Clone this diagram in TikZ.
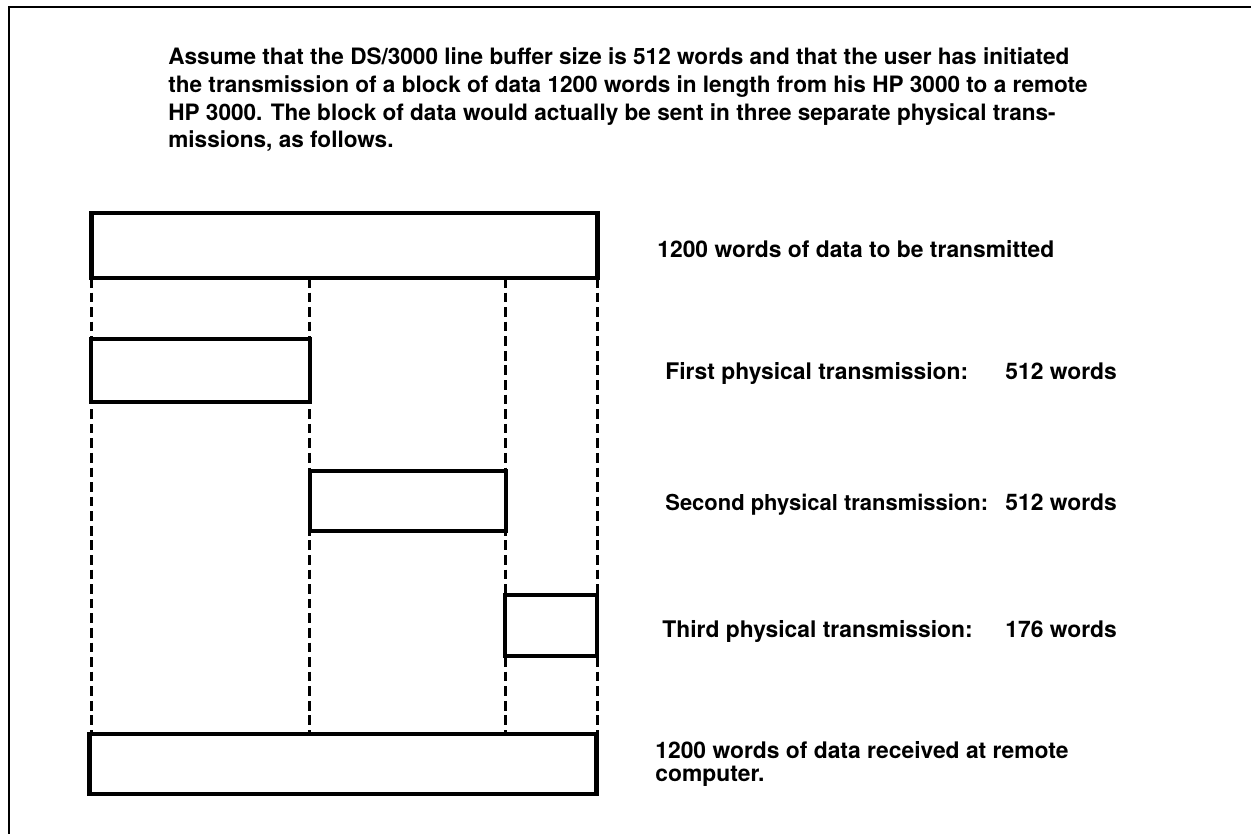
\documentclass[tikz,border=0pt]{standalone}
\usepackage{fontspec}
\usepackage{tikz}
\usetikzlibrary{calc}
\newfontfamily\hpfont{TeX Gyre Heros}
\tikzset{
  frame/.style={draw, line width=1.5pt},
  blk/.style={rectangle, draw, line width=2.8pt, inner sep=0pt, outer sep=0pt},
  guide/.style={dash pattern=on 5.5pt off 2.8pt, line width=1.7pt},
  para/.style={anchor=north west, align=left, inner sep=0pt,
               font=\hpfont\bfseries\fontsize{12.85}{15.9}\selectfont},
  lbl/.style={anchor=base west, inner sep=0pt,
              font=\hpfont\bfseries\fontsize{13}{13.1}\selectfont},
}

\begin{document}
\begin{tikzpicture}[x=0.02cm, y=-0.02cm]

\useasboundingbox (0,0) rectangle (1251,834);
\clip (0,0) rectangle (1251,834);

% Ramka
\draw[frame] (9,7) rectangle (1280,860);

% Opis
\node[para] (intro) at (168,47) {Assume that the DS/3000 line buffer size is 512 words and that the user has initiated\\
the transmission of a block of data 1200 words in length from his HP 3000 to a remote\\
HP 3000. The block of data would actually be sent in three separate physical trans-\\
missions, as follows.};

% ========== Bloki danych ==========
\node[blk, minimum width=10.14cm, minimum height=1.30cm] (whole)    at (344.5,245.5) {};
\node[blk, minimum width=4.38cm,  minimum height=1.26cm] (first)    at (200.5,370.5) {};
\node[blk, minimum width=3.92cm,  minimum height=1.20cm] (second)   at (408,501)     {};
\node[blk, minimum width=1.84cm,  minimum height=1.22cm] (third)    at (551,625.5)   {};
\node[blk, minimum width=10.16cm, minimum height=1.20cm] (received) at (343,764)     {};

% ========== Linie pomocnicze ==========
\draw[guide] (whole.south west) -- (whole.south west |- received.north);
\draw[guide] (first.east |- whole.south) -- (first.east |- received.north);
\draw[guide] (third.west |- whole.south) -- (third.west |- received.north);
\draw[guide] (whole.south east) -- (whole.south east |- received.north);

% ========== Opisy ==========
\node[lbl] (lwhole)  at (657,258) {1200 words of data to be transmitted};
\node[lbl] (lfirst)  at (665,380) {First physical transmission:};
\node[lbl] (nfirst)  at (1005,380) {512 words};
\node[lbl, font=\hpfont\bfseries\fontsize{12.5}{13.1}\selectfont] (lsecond) at (665,510) {Second physical transmission:};
\node[lbl] (nsecond) at (1005,510) {512 words};
\node[lbl] (lthird)  at (662,637) {Third physical transmission:};
\node[lbl] (nthird)  at (1005,637) {176 words};
\node[lbl, anchor=north west, align=left] (lreceived) at (655,741) {1200 words of data received at remote\\computer.};

\end{tikzpicture}
\end{document}
